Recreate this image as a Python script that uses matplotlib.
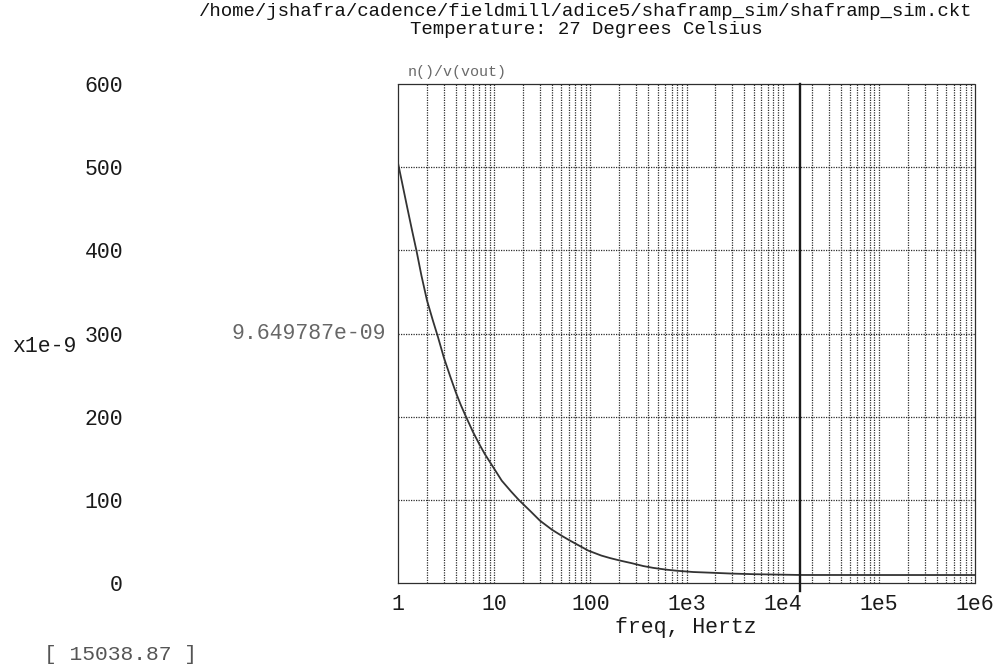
import matplotlib
matplotlib.use("Agg")
import matplotlib.pyplot as plt
from matplotlib.ticker import FixedLocator, NullFormatter
import matplotlib.transforms as mtransforms

# Output noise referred to v(vout), in units of 1e-9
freq = [1.0, 1.1, 1.25, 1.4, 1.56, 1.75, 2.0, 2.3, 2.6, 3.0, 3.5, 4.0, 4.5,
        5.0, 6.0, 7.0, 8.0, 9.8, 12.0, 15.0, 18.0, 24.0, 29.9, 40.0, 50.0,
        61.4, 75.0, 95.0, 130.0, 160.0, 203.0, 270.0, 355.0, 450.0, 621.0,
        800.0, 1175.0, 1600.0, 2140.0, 3000.0, 5000.0, 10000.0, 15038.87,
        50000.0, 100000.0, 1000000.0]
noise = [505.0, 482.0, 451.0, 424.0, 399.0, 370.0, 340.0, 316.0, 296.0,
         271.0, 248.0, 229.0, 214.0, 202.0, 182.0, 167.0, 155.0, 139.0,
         123.0, 110.0, 100.0, 86.0, 75.0, 64.0, 57.0, 51.0, 45.5, 39.0,
         33.0, 30.0, 27.0, 23.8, 20.4, 18.2, 16.0, 14.7, 13.2, 12.6, 12.0,
         11.3, 10.6, 10.0, 9.649787, 9.62, 9.6, 9.6]

marker_freq = 15038.87
marker_value = 9.649787e-09

xticks = [1, 10, 100, 1e3, 1e4, 1e5, 1e6]
xtick_labels = ["1", "10", "100", "1e3", "1e4", "1e5", "1e6"]
yticks = [0, 100, 200, 300, 400, 500, 600]

title_lines = ["/home/jshafra/cadence/fieldmill/adice5/shaframp_sim/shaframp_sim.ckt",
               "Temperature: 27 Degrees Celsius"]

mono = "Liberation Mono"
W, H = 998, 667
fig = plt.figure(figsize=(W / 100, H / 100), dpi=100)
ax = fig.add_axes([398 / W, 1 - 583 / H, (975 - 398) / W, (583 - 84) / H])

ax.set_xscale("log")
ax.set_xlim(1, 1e6)
ax.set_ylim(0, 600)

grid_kw = dict(color="#2e2e2e", linewidth=0.9, linestyle=(0, (1, 1)), zorder=1)
# vertical log grid: every 1..9 in each decade
for dec in range(6):
    for m in range(1, 10):
        v = m * 10 ** dec
        if 1 < v < 1e6:
            ax.axvline(v, **grid_kw)
for y in yticks[1:-1]:
    ax.axhline(y, **grid_kw)

for sp in ax.spines.values():
    sp.set_linestyle((0, (1, 1)))
    sp.set_color("#2e2e2e")
    sp.set_linewidth(0.9)

ax.plot(freq, noise, color="#333333", linewidth=1.3, zorder=3)

# marker line, slightly overhanging the bottom edge
ax.plot([marker_freq, marker_freq], [-10, 600], color="#1a1a1a", linewidth=1.7,
        clip_on=False, zorder=4)

ax.xaxis.set_major_locator(FixedLocator(xticks))
ax.xaxis.set_minor_formatter(NullFormatter())
ax.set_xticklabels(xtick_labels)
ax.set_yticks(yticks)
ax.set_yticklabels([str(v) for v in yticks])
ax.tick_params(axis="both", which="both", length=0)
ax.tick_params(axis="y", pad=198, labelsize=15.5, labelcolor="#1a1a1a")
ax.tick_params(axis="x", pad=8, labelsize=15.5, labelcolor="#1a1a1a")
for lab in ax.get_xticklabels() + ax.get_yticklabels():
    lab.set_fontfamily(mono)

fig.text(586 / W, 1 - 12 / H, title_lines[0], ha="center", va="center",
         fontsize=13.7, family=mono, color="#111111")
fig.text(586 / W, 1 - 30 / H, title_lines[1], ha="center", va="center",
         fontsize=13.7, family=mono, color="#111111")

ax.text(0.016, 1.0 + 12 / 499, "n()/v(vout)", transform=ax.transAxes,
        ha="left", va="center", fontsize=10.8, family=mono, color="#6a6a6a")

# marker readout next to the y axis, at the 300 level
trans = mtransforms.blended_transform_factory(fig.transFigure, ax.transData)
fig.text(386 / W, 300, f"{marker_value:.6e}", transform=trans, ha="right",
         va="center", fontsize=15.5, family=mono, color="#666666")

fig.text(76 / W, 1 - 346 / H, "x1e-9", ha="right", va="center",
         fontsize=15.5, family=mono, color="#1a1a1a")

fig.text(686 / W, 1 - 627 / H, "freq, Hertz", ha="center", va="center",
         fontsize=15.5, family=mono, color="#1a1a1a")

fig.text(120 / W, 1 - 655 / H, f"[ {marker_freq:.2f} ]", ha="center",
         va="center", fontsize=15.3, family=mono, color="#555555")

fig.savefig("out.png", dpi=100)
